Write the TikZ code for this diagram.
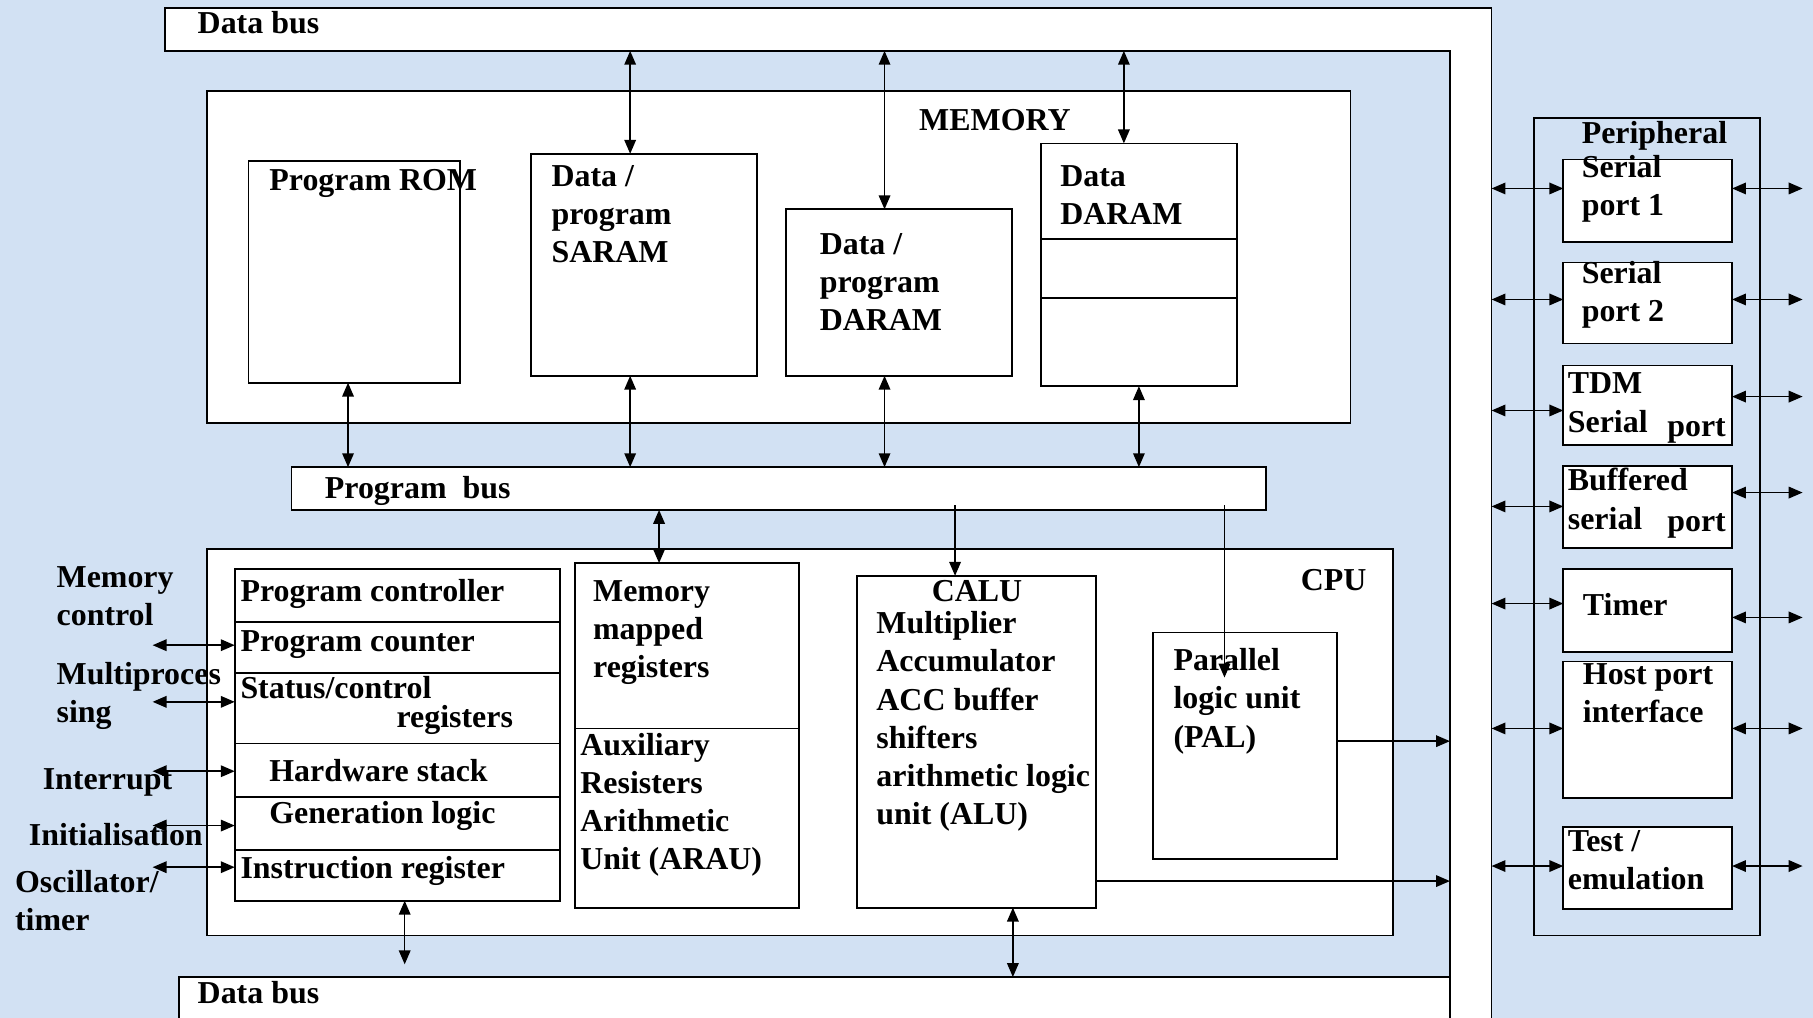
\documentclass[tikz,border=0pt]{standalone}
\usepackage{fontspec}
\setmainfont{Liberation Serif}
\usetikzlibrary{arrows.meta}
\definecolor{bgblue}{RGB}{210,225,243}
\newcommand\mybox[6][]{\node[box,minimum width={(#5-#3)*1pt},minimum height={(#6-#4)*1pt},#1] (#2) at (#3,#4) {};}
\begin{document}
\begin{tikzpicture}[x=1pt,y=-1pt,
  box/.style={draw=black,fill=white,line width=1.5pt,anchor=north west,inner sep=0pt,outer sep=0pt},
  txt/.style={inner sep=0pt,outer sep=0pt,anchor=north west,align=left,font=\fontsize{27.6}{33}\selectfont\bfseries},
  dbl/.style={{Triangle[length=12pt,width=10pt]}-{Triangle[length=12pt,width=10pt]},line width=1.3pt},
  sgl/.style={-{Triangle[length=12pt,width=10pt]},line width=1.3pt},
]
\useasboundingbox (0,0) rectangle (1568,880);
\clip (0,0) rectangle (1568,880);
\fill[bgblue] (0,0) rectangle (1568,880);

% ---- buses ----
\path[fill=white] (1254,7) -- (1290,7) -- (1290,880) -- (1254,880) -- cycle;
\fill[white] (143,7) rectangle (1290,44);
\node[inner sep=0pt,outer sep=0pt,anchor=north west,minimum width=36pt,minimum height=873pt] (vbus) at (1254,7) {};
\node[inner sep=0pt,outer sep=0pt,anchor=north west,minimum width=1147pt,minimum height=37pt] (dbtop) at (143,7) {};
\draw[line width=1.5pt] (vbus.south west) -- (vbus.west |- dbtop.south) -- (dbtop.south west)
  -- (dbtop.north west) -- (dbtop.north east) -- (vbus.south east);
\mybox{dbbot}{155}{845}{1254}{920}
\mybox{pbus}{252}{404}{1095}{441}

% ---- memory ----
\mybox{mem}{179}{79}{1168}{366}
\mybox{rom}{215}{139}{398}{331}
\mybox{saram}{459}{133}{655}{325}
\mybox{pdaram}{680}{181}{875}{325}
\mybox{ddaram}{900}{124}{1070}{334}
\draw[line width=1.5pt] (ddaram.west |- 0,207) -- (ddaram.east |- 0,207);
\draw[line width=1.5pt] (ddaram.west |- 0,258) -- (ddaram.east |- 0,258);

% ---- cpu ----
\mybox{cpu}{179}{475}{1205}{809}
\mybox{pc}{203}{492}{484}{538}
\mybox{pcnt}{203}{538}{484}{582}
\mybox{status}{203}{582}{484}{643}
\mybox{hws}{203}{643}{484}{689}
\mybox{genl}{203}{689}{484}{735}
\mybox{ir}{203}{735}{484}{779}
\mybox{mmr}{497}{487}{691}{630}
\mybox{aux}{497}{630}{691}{785}
\mybox{calu}{741}{498}{948}{785}
\mybox{pal}{997}{547}{1156}{743}

% ---- peripherals ----
\mybox[fill=none]{periph}{1327}{102}{1522}{809}
\mybox{sp1}{1352}{138}{1498}{209}
\mybox{sp2}{1352}{227}{1498}{297}
\mybox{tdm}{1352}{316}{1498}{385}
\mybox{bsp}{1352}{403}{1498}{474}
\mybox{timer}{1352}{492}{1498}{564}
\mybox{hpi}{1352}{572}{1498}{690}
\mybox{test}{1352}{715}{1498}{786}

% ---- connectors: memory ----
\draw[dbl] (545,0 |- dbtop.south) -- (545,0 |- saram.north);
\draw[dbl] (765,0 |- dbtop.south) -- (765,0 |- pdaram.north);
\draw[dbl] (972,0 |- dbtop.south) -- (972,0 |- ddaram.north);
\draw[dbl] (301,0 |- rom.south) -- (301,0 |- pbus.north);
\draw[dbl] (545,0 |- saram.south) -- (545,0 |- pbus.north);
\draw[dbl] (765,0 |- pdaram.south) -- (765,0 |- pbus.north);
\draw[dbl] (985,0 |- ddaram.south) -- (985,0 |- pbus.north);

% ---- connectors: cpu ----
\coordinate (paltip) at (1059,586);
\draw[dbl] (570,0 |- pbus.south) -- (570,0 |- mmr.north);
\draw[sgl] ([yshift=4pt]826,0 |- pbus.south) -- (826,0 |- calu.north);
\draw[sgl] ([yshift=4pt]1059,0 |- pbus.south) -- (paltip);
\draw[sgl] (pal.east |- 0,641) -- (vbus.west |- 0,641);
\draw[sgl] (calu.east |- 0,762) -- (vbus.west |- 0,762);
\draw[dbl,shorten >=11pt] (350,0 |- ir.south) -- (350,0 |- dbbot.north);
\draw[dbl] (876,0 |- calu.south) -- (876,0 |- dbbot.north);

\coordinate (in1) at (132,558);
\coordinate (in2) at (132,607);
\coordinate (in3) at (132,667);
\coordinate (in4) at (132,714);
\coordinate (in5) at (132,750);
\draw[dbl] (in1) -- (in1 -| pcnt.west);
\draw[dbl] (in2) -- (in2 -| status.west);
\draw[dbl] (in3) -- (in3 -| hws.west);
\draw[dbl] (in4) -- (in4 -| genl.west);
\draw[dbl] (in5) -- (in5 -| ir.west);

% ---- connectors: peripherals ----
\foreach \n/\yl/\yr in {sp1/163/163, sp2/259/259, tdm/355/343, bsp/438/426, timer/522/534, hpi/630/630, test/749/749}{
  \draw[dbl] (vbus.east |- 0,\yl) -- (\n.west |- 0,\yl);
  \coordinate (\n out) at (1559,\yr);
  \draw[dbl] (\n.east |- 0,\yr) -- (\n out);
}

% ---- texts ----
\node[txt] (tdbtop) at (171,6) {\strut Data bus};
\node[txt] (tmem) at (795,90) {\strut MEMORY};
\node[txt] (trom) at (233,142) {\strut Program ROM};
\node[txt] (tsaram) at (477,138) {\strut Data /\\program\\SARAM};
\node[txt] (tpdaram) at (709,197) {\strut Data /\\program\\DARAM};
\node[txt] (tddaram) at (917,138) {\strut Data\\DARAM};
\node[txt] (tpbus) at (281,408) {\strut Program\hspace{0.5em}bus};
\node[txt] (tcpu) at (1125,488) {\strut CPU};
\node[txt] (tpc) at (208,497) {\strut Program controller};
\node[txt] (tpcnt) at (208,540) {\strut Program counter};
\node[txt] (tstat) at (208,581) {\strut Status/control};
\node[txt] (tstat2) at (343,606) {\strut registers};
\node[txt] (thws) at (233,653) {\strut Hardware stack};
\node[txt] (tgenl) at (233,689) {\strut Generation logic};
\node[txt] (tir) at (208,737) {\strut Instruction register};
\node[txt] (tmmr) at (513,497) {\strut Memory\\mapped\\registers};
\node[txt] (taux) at (502,630) {\strut Auxiliary\\Resisters\\Arithmetic\\Unit (ARAU)};
\node[txt,anchor=north] (tcalu) at (845,497) {\strut CALU};
\node[txt] (tcalu2) at (758,525) {\strut Multiplier\\Accumulator\\ACC buffer\\shifters\\arithmetic logic\\unit (ALU)};
\node[txt] (tpal) at (1015,557) {\strut Parallel\\logic unit\\(PAL)};
\node[txt] (tl1) at (49,485) {\strut Memory\\control};
\node[txt] (tl2) at (49,569) {\strut Multiproces\\sing};
\node[txt] (tl3) at (37,660) {\strut Interrupt};
\node[txt] (tl4) at (25,708) {\strut Initialisation};
\node[txt] (tl5) at (13,749) {\strut Oscillator/\\timer};
\node[txt] (tperiph) at (1368,101) {\strut Peripheral};
\node[txt] (tsp1) at (1368,130) {\strut Serial\\port 1};
\node[txt] (tsp2) at (1368,222) {\strut Serial\\port 2};
\node[txt] (ttdm) at (1356,317) {\strut TDM};
\node[txt] (ttdm2) at (1356,351) {\strut Serial};
\node[txt] (ttdm3) at (1442,354) {\strut port};
\node[txt] (tbsp) at (1356,401) {\strut Buffered};
\node[txt] (tbsp2) at (1356,435) {\strut serial};
\node[txt] (tbsp3) at (1442,437) {\strut port};
\node[txt] (ttimer) at (1369,509) {\strut Timer};
\node[txt] (thpi) at (1369,569) {\strut Host port\\interface};
\node[txt] (ttest) at (1356,713) {\strut Test /\\emulation};
\node[txt] (tdbbot) at (171,845) {\strut Data bus};
\end{tikzpicture}
\end{document}
